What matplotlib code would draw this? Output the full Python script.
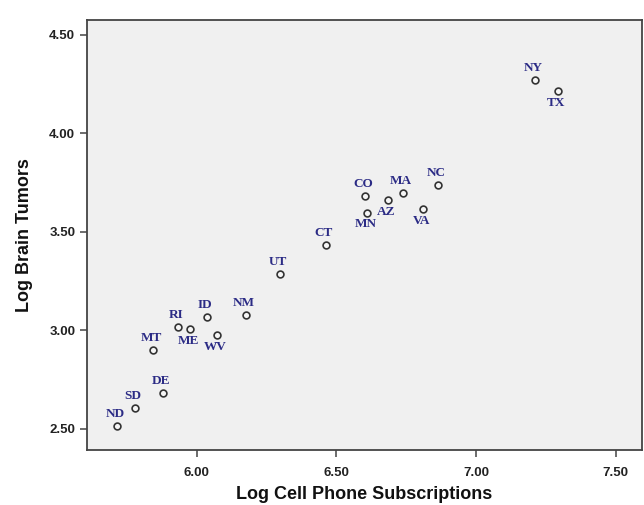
import matplotlib
matplotlib.use('Agg')
import matplotlib.pyplot as plt

# dane
states = ['ND', 'SD', 'DE', 'MT', 'RI', 'ME', 'ID', 'WV', 'NM', 'UT',
          'CT', 'CO', 'MN', 'AZ', 'MA', 'VA', 'NC', 'NY', 'TX']
log_cell = [5.716, 5.780, 5.879, 5.845, 5.932, 5.977, 6.036, 6.073, 6.175, 6.297,
            6.462, 6.602, 6.611, 6.684, 6.739, 6.811, 6.865, 7.211, 7.294]
log_tumors = [2.517, 2.608, 2.681, 2.900, 3.016, 3.008, 3.070, 2.977, 3.080, 3.285,
              3.434, 3.684, 3.598, 3.662, 3.698, 3.615, 3.737, 4.270, 4.216]
below = ['ME', 'WV', 'MN', 'AZ', 'VA', 'TX']  # etykiety pod punktem

x_ticks = [6.0, 6.5, 7.0, 7.5]
y_ticks = [2.5, 3.0, 3.5, 4.0, 4.5]

fig = plt.figure(figsize=(6.44, 5.05), dpi=100)
ax = fig.add_axes([87 / 644, 1 - 450 / 505, (641.7 - 87) / 644, (450 - 20) / 505])
ax.set_facecolor('#f0f0f0')

ax.scatter(log_cell, log_tumors, s=24, facecolors='#f6f6f6', edgecolors='#333333',
           linewidths=1.2, zorder=3)

for st, xv, yv in zip(states, log_cell, log_tumors):
    dy = -8.5 if st in below else 8.5
    ax.annotate(st, (xv, yv), xytext=(-1.5, dy), textcoords='offset points',
                ha='center', va='center', fontsize=9.5, family='Liberation Serif',
                fontweight='bold', color='#2b2b85')

ax.set_xlim(5.607, 7.593)
ax.set_ylim(2.393, 4.576)
ax.set_xticks(x_ticks)
ax.set_yticks(y_ticks)
ax.set_xticklabels(['%.2f' % v for v in x_ticks])
ax.set_yticklabels(['%.2f' % v for v in y_ticks])

for s in ax.spines.values():
    s.set_color('#444444')
    s.set_linewidth(1.3)

ax.tick_params(axis='both', length=5, width=1.1, color='#444444', labelsize=9.5)
ax.tick_params(axis='x', pad=7.5)
ax.tick_params(axis='y', pad=3.5)
for lab in ax.get_xticklabels() + ax.get_yticklabels():
    lab.set_fontweight('bold')
    lab.set_family('Liberation Sans')
    lab.set_color('#222222')

ax.set_xlabel('Log Cell Phone Subscriptions', fontsize=13, family='Liberation Sans',
              fontweight='bold', color='#111111')
ax.set_ylabel('Log Brain Tumors', fontsize=13, family='Liberation Sans',
              fontweight='bold', color='#111111')
ax.xaxis.set_label_coords(0.5, -0.084)
ax.yaxis.set_label_coords(-0.097, 0.5)

fig.savefig('out.png', dpi=100)
